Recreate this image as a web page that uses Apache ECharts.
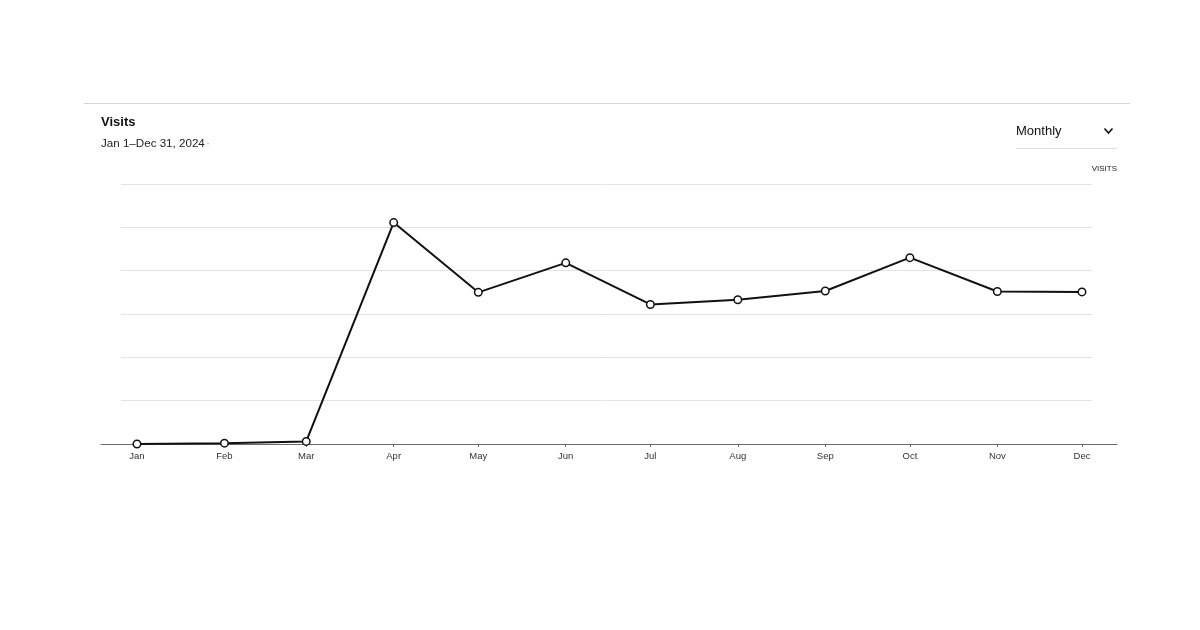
<!DOCTYPE html>
<html><head><meta charset="utf-8">
<script src="https://cdn.jsdelivr.net/npm/echarts@6/dist/echarts.min.js"></script>
<style>html,body{margin:0;padding:0;background:#fff}#c{width:1200px;height:630px}</style>
</head><body><div id="c"></div>
<script>
const monthDates = ['2024-01-01','2024-02-01','2024-03-01','2024-04-01','2024-05-01','2024-06-01','2024-07-01','2024-08-01','2024-09-01','2024-10-01','2024-11-01','2024-12-01'];
const monthLabels = ['Jan','Feb','Mar','Apr','May','Jun','Jul','Aug','Sep','Oct','Nov','Dec'];
const visits = [0, 2, 6, 511, 350, 418, 322, 333, 353, 430, 352, 351];
const yTicks = [0, 100, 200, 300, 400, 500, 600];

const FONT = '"Liberation Sans", Arial, sans-serif';
const chart = echarts.init(document.getElementById('c'), null, {renderer: 'canvas'});
const day = 86400000;
const xMin = Date.UTC(2023, 11, 19, 6);
const xMax = Date.UTC(2024, 11, 13, 10);

chart.setOption({
  animation: false,
  backgroundColor: '#fff',
  textStyle: {fontFamily: FONT},
  grid: [
    {left: 101, right: 83, top: 184, bottom: 186},
    {left: 121, right: 108, top: 184, bottom: 186}
  ],
  xAxis: [
    {
      type: 'time', gridIndex: 0, min: xMin, max: xMax, useUTC: true,
      splitNumber: 12, minInterval: 28 * day, maxInterval: 31 * day,
      axisLine: {show: true, lineStyle: {color: '#6b6b6b', width: 1}},
      axisTick: {show: true, length: 3, lineStyle: {color: '#6b6b6b'}},
      axisLabel: {
        color: '#333', fontSize: 9.5, margin: 7, fontFamily: FONT,
        formatter: function (v) { return monthLabels[new Date(v).getUTCMonth()]; }
      },
      splitLine: {show: false}, minorTick: {show: false}
    },
    {type: 'value', gridIndex: 1, min: 0, max: 1, show: false}
  ],
  yAxis: [
    {type: 'value', gridIndex: 0, min: yTicks[0], max: yTicks[yTicks.length - 1], interval: 100, show: false},
    {
      type: 'value', gridIndex: 1, min: yTicks[0], max: yTicks[yTicks.length - 1], interval: 100,
      axisLine: {show: false}, axisTick: {show: false}, axisLabel: {show: false},
      splitLine: {show: true, showMinLine: false, lineStyle: {color: '#e2e2e2', width: 1}}
    }
  ],
  graphic: [
    {type: 'line', shape: {x1: 84, y1: 103.5, x2: 1130, y2: 103.5}, style: {stroke: '#d4d4d4', lineWidth: 1}},
    {type: 'text', left: 101, top: 116, style: {text: 'Visits', font: 'bold 13px ' + FONT, fill: '#111'}},
    {type: 'text', left: 101, top: 138, style: {text: 'Jan 1–Dec 31, 2024', font: '11.6px ' + FONT, fill: '#222'}},
    {type: 'text', left: 206, top: 138, style: {text: '·', font: '12px ' + FONT, fill: '#999'}},
    {type: 'text', left: 1016, top: 125, style: {text: 'Monthly', font: '13px ' + FONT, fill: '#111'}},
    {type: 'polyline', shape: {points: [[1104.5, 128.5], [1108.5, 133], [1112.5, 128.5]]}, style: {stroke: '#111', lineWidth: 1.6, fill: null}},
    {type: 'line', shape: {x1: 1016, y1: 148.5, x2: 1117, y2: 148.5}, style: {stroke: '#dcdcdc', lineWidth: 1}},
    {type: 'text', right: 83, top: 165, style: {text: 'VISITS', font: '8px ' + FONT, fill: '#222', align: 'right'}}
  ],
  series: [{
    type: 'line', xAxisIndex: 0, yAxisIndex: 0,
    data: monthDates.map((d, i) => [d, visits[i]]),
    symbol: 'circle', symbolSize: 7.5, showSymbol: true,
    lineStyle: {color: '#111', width: 2},
    itemStyle: {color: '#fff', borderColor: '#111', borderWidth: 1.5},
    z: 5
  }]
});
</script></body></html>
